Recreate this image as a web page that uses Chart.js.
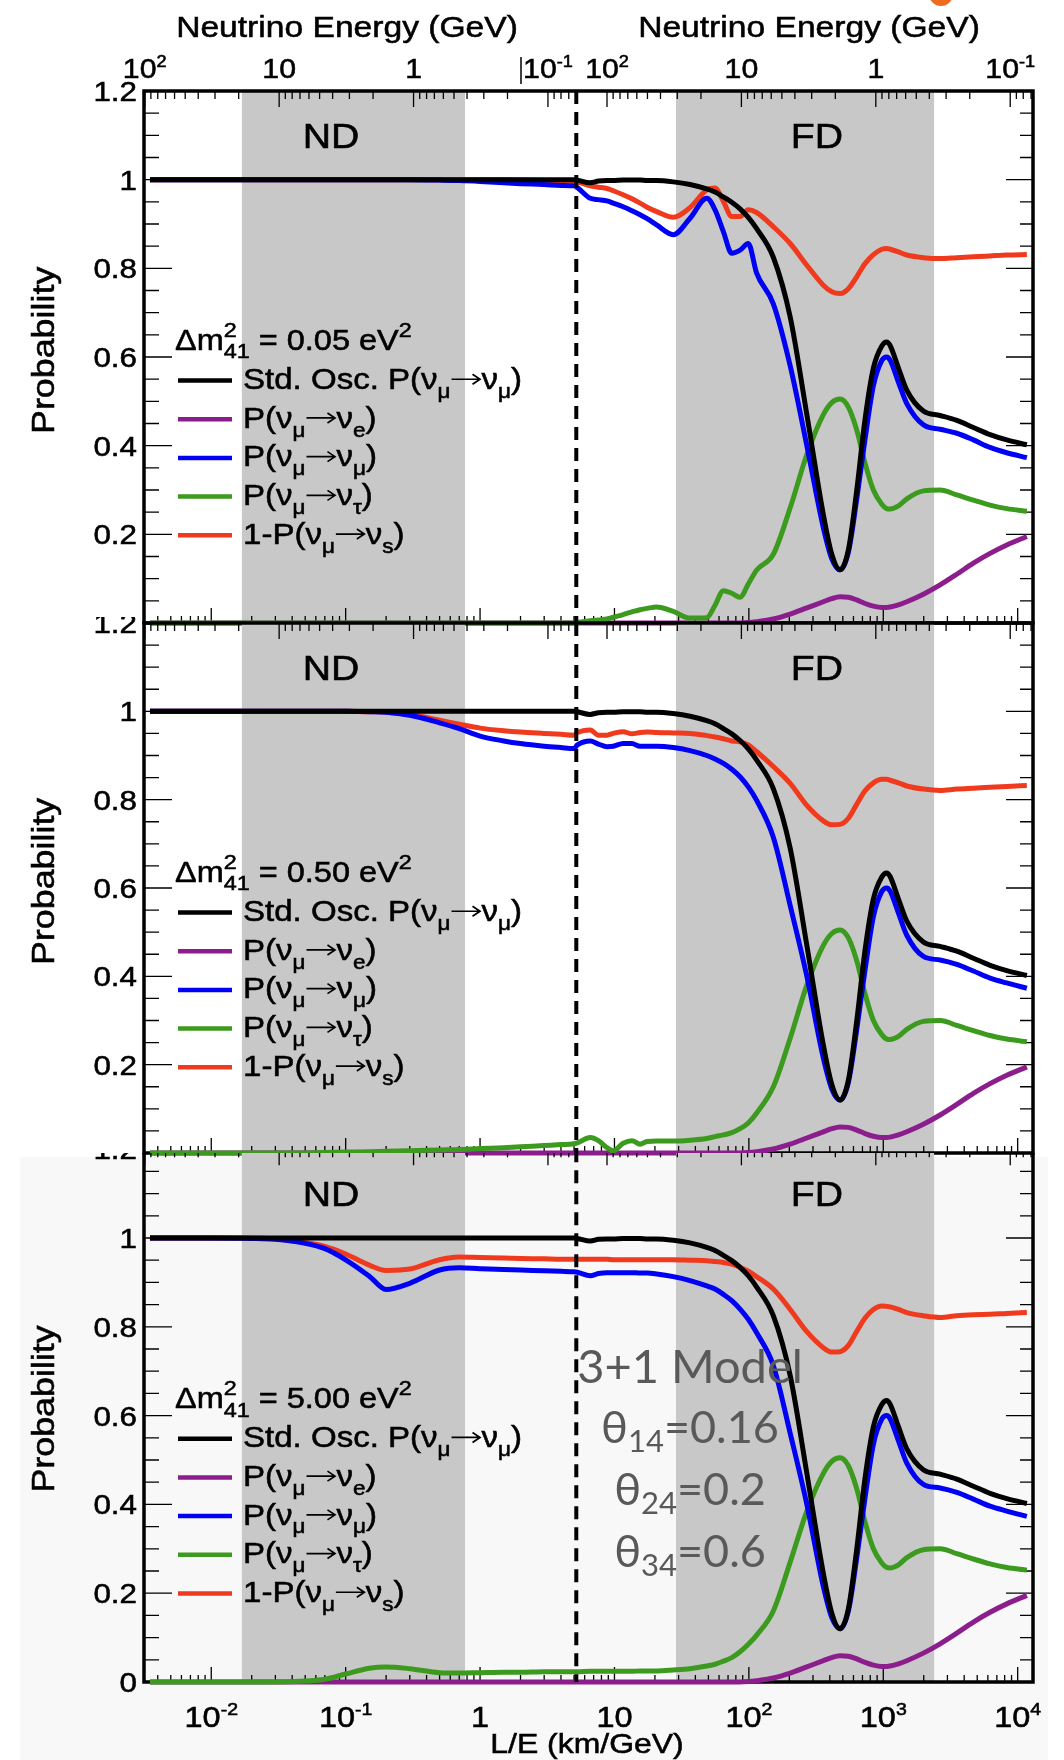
<!DOCTYPE html>
<html>
<head>
<meta charset="utf-8">
<script src="https://cdn.jsdelivr.net/npm/chart.js@4.4.0/dist/chart.umd.min.js"></script>
<style>
  html, body { margin: 0; padding: 0; background: #fff; }
  #page { position: relative; width: 1064px; height: 1760px; overflow: hidden; }
  .wrap { position: absolute; left: 0; width: 1064px; overflow: hidden; }
  .wrap canvas { position: absolute; left: 0; }
  #bg3 { position: absolute; left: 20px; top: 1157px; width: 1028px; height: 603px; background: #f8f8f8; }
  #dot { position: absolute; left: 929px; top: -18px; width: 24px; height: 24px; border-radius: 50%; background: #ee6b1f; }
</style>
</head>
<body>
<div id="page">
  <div id="bg3"></div>
  <div class="wrap" style="top:0;height:640px"><canvas id="c1" width="1064" height="640" style="top:0"></canvas></div>
  <div class="wrap" style="top:617px;height:545px"><canvas id="c2" width="1064" height="545" style="top:0"></canvas></div>
  <div class="wrap" style="top:1153px;height:607px"><canvas id="c3" width="1064" height="617" style="top:-10px"></canvas></div>
  <div id="dot"></div>
</div>
<script>
// L/E sampling points (km/GeV)
const lOverE = [
  0.0035, 0.01, 0.02, 0.03, 0.05, 0.07, 0.1, 0.15, 0.2, 0.3,
  0.5, 0.7, 1, 1.5, 2, 3, 4, 5, 5.3, 6.6,
  7.6, 8.8, 9.8, 11.6, 13.5, 15.5, 17.5, 20.6, 27.4, 36.5,
  48.6, 56, 64.6, 74.6, 86, 99, 114, 152, 203, 270,
  358, 414, 477, 550, 635, 732, 844, 975, 1060, 1124,
  1297, 1496, 1987, 2647, 3524, 4680, 6230, 8300, 11700
];

// standard 3-flavour numu survival, same in every panel
const stdOsc = [
  1, 1, 1, 1, 1, 1, 1, 1, 1, 1,
  1, 1, 1, 1, 1, 1, 1, 1, 0.999, 0.993,
  0.997, 0.998, 0.998, 0.999, 0.999, 0.999, 0.998, 0.998, 0.995, 0.989,
  0.979, 0.972, 0.961, 0.949, 0.934, 0.915, 0.89, 0.825, 0.69, 0.47,
  0.245, 0.155, 0.12, 0.165, 0.3, 0.46, 0.575, 0.625, 0.634, 0.626,
  0.575, 0.525, 0.478, 0.468, 0.457, 0.441, 0.425, 0.413, 0.402
];

// numu -> nue appearance
const nuE = [
  0, 0, 0, 0, 0, 0, 0, 0, 0, 0,
  0, 0, 0, 0, 0, 0, 0, 0, 0, 0,
  0, 0, 0, 0, 0, 0, 0, 0, 0, 0,
  0, 0, 0, 0, 0, 0.001, 0.003, 0.009, 0.02, 0.034,
  0.048, 0.055, 0.059, 0.058, 0.052, 0.044, 0.038, 0.035, 0.035, 0.036,
  0.041, 0.048, 0.065, 0.086, 0.11, 0.135, 0.157, 0.176, 0.195
];

// dm41^2 = 0.05 eV^2
const numu05 = [
  1, 1, 1, 1, 1, 1, 1, 1, 1, 1,
  0.999, 0.998, 0.996, 0.993, 0.991, 0.989, 0.987, 0.986, 0.982, 0.958,
  0.955, 0.952, 0.947, 0.939, 0.93, 0.921, 0.912, 0.898, 0.876, 0.913,
  0.958, 0.932, 0.883, 0.834, 0.841, 0.856, 0.79, 0.72, 0.58, 0.40,
  0.215, 0.145, 0.12, 0.16, 0.28, 0.415, 0.535, 0.592, 0.6, 0.593,
  0.543, 0.495, 0.447, 0.437, 0.428, 0.413, 0.396, 0.384, 0.373
];
const nutau05 = [
  0, 0, 0, 0, 0, 0, 0, 0, 0, 0,
  0, 0, 0, 0, 0, 0, 0, 0, 0.001, 0.005,
  0.007, 0.009, 0.013, 0.019, 0.025, 0.03, 0.033, 0.036, 0.026, 0.011,
  0.012, 0.04, 0.073, 0.067, 0.058, 0.088, 0.119, 0.155, 0.26, 0.38,
  0.47, 0.497, 0.505, 0.487, 0.435, 0.36, 0.30, 0.268, 0.258, 0.257,
  0.264, 0.28, 0.298, 0.3, 0.289, 0.277, 0.266, 0.258, 0.252
];
const notSterile05 = [
  1, 1, 1, 1, 1, 1, 1, 1, 1, 1,
  1, 1, 1, 1, 0.999, 0.998, 0.997, 0.996, 0.995, 0.986,
  0.983, 0.98, 0.975, 0.966, 0.957, 0.947, 0.938, 0.928, 0.915, 0.937,
  0.977, 0.981, 0.951, 0.917, 0.917, 0.932, 0.926, 0.894, 0.856, 0.807,
  0.762, 0.747, 0.743, 0.754, 0.781, 0.811, 0.831, 0.843, 0.845, 0.843,
  0.837, 0.83, 0.824, 0.822, 0.824, 0.826, 0.828, 0.83, 0.831
];

// dm41^2 = 0.50 eV^2
const numu50 = [
  1, 1, 1, 1, 1, 1, 1, 0.999, 0.998, 0.991,
  0.974, 0.961, 0.944, 0.933, 0.927, 0.921, 0.918, 0.916, 0.924, 0.933,
  0.926, 0.92, 0.921, 0.927, 0.927, 0.921, 0.921, 0.921, 0.918, 0.911,
  0.9, 0.892, 0.882, 0.869, 0.852, 0.829, 0.799, 0.715, 0.56, 0.40,
  0.215, 0.145, 0.12, 0.16, 0.28, 0.415, 0.535, 0.592, 0.6, 0.593,
  0.543, 0.493, 0.445, 0.437, 0.427, 0.412, 0.396, 0.385, 0.373
];
const nutau50 = [
  0, 0, 0, 0, 0, 0.001, 0.002, 0.003, 0.004, 0.005,
  0.007, 0.008, 0.01, 0.012, 0.014, 0.017, 0.019, 0.021, 0.023, 0.035,
  0.028, 0.012, 0.005, 0.022, 0.028, 0.02, 0.026, 0.027, 0.027, 0.029,
  0.033, 0.037, 0.041, 0.046, 0.055, 0.068, 0.09, 0.15, 0.26, 0.38,
  0.47, 0.497, 0.505, 0.487, 0.435, 0.36, 0.30, 0.268, 0.258, 0.257,
  0.264, 0.28, 0.298, 0.3, 0.289, 0.277, 0.266, 0.258, 0.252
];
const notSterile50 = [
  1, 1, 1, 1, 1, 1, 1, 0.999, 0.998, 0.993,
  0.98, 0.971, 0.962, 0.956, 0.953, 0.95, 0.948, 0.946, 0.952, 0.958,
  0.946, 0.946, 0.95, 0.954, 0.949, 0.952, 0.953, 0.952, 0.951, 0.95,
  0.945, 0.942, 0.938, 0.933, 0.931, 0.924, 0.909, 0.875, 0.837, 0.787,
  0.752, 0.743, 0.744, 0.758, 0.79, 0.82, 0.838, 0.846, 0.846, 0.844,
  0.838, 0.831, 0.824, 0.821, 0.824, 0.826, 0.828, 0.83, 0.832
];

// dm41^2 = 5.00 eV^2
const numu500 = [
  1, 1, 0.999, 0.997, 0.988, 0.976, 0.951, 0.914, 0.884, 0.898,
  0.928, 0.933, 0.931, 0.929, 0.928, 0.926, 0.925, 0.924, 0.923, 0.915,
  0.92, 0.922, 0.922, 0.922, 0.922, 0.921, 0.921, 0.919, 0.913, 0.904,
  0.892, 0.885, 0.873, 0.859, 0.84, 0.817, 0.787, 0.713, 0.56, 0.40,
  0.215, 0.145, 0.12, 0.16, 0.28, 0.415, 0.535, 0.592, 0.6, 0.593,
  0.543, 0.493, 0.445, 0.437, 0.427, 0.412, 0.396, 0.385, 0.373
];
const nutau500 = [
  0, 0, 0, 0, 0.002, 0.006, 0.018, 0.031, 0.034, 0.03,
  0.021, 0.02, 0.021, 0.022, 0.022, 0.023, 0.023, 0.023, 0.023, 0.024,
  0.024, 0.024, 0.024, 0.024, 0.024, 0.025, 0.025, 0.025, 0.027, 0.03,
  0.036, 0.04, 0.047, 0.055, 0.068, 0.085, 0.105, 0.16, 0.27, 0.385,
  0.47, 0.497, 0.505, 0.487, 0.435, 0.36, 0.30, 0.268, 0.258, 0.257,
  0.264, 0.28, 0.298, 0.3, 0.289, 0.277, 0.266, 0.258, 0.252
];
const notSterile500 = [
  1, 1, 1, 0.998, 0.99, 0.981, 0.964, 0.939, 0.927, 0.93,
  0.951, 0.957, 0.956, 0.955, 0.954, 0.953, 0.952, 0.952, 0.952, 0.952,
  0.952, 0.952, 0.951, 0.951, 0.951, 0.951, 0.951, 0.951, 0.951, 0.95,
  0.949, 0.947, 0.945, 0.941, 0.934, 0.925, 0.913, 0.885, 0.839, 0.789,
  0.753, 0.743, 0.744, 0.758, 0.79, 0.82, 0.839, 0.847, 0.846, 0.845,
  0.839, 0.832, 0.825, 0.821, 0.825, 0.827, 0.828, 0.83, 0.832
];

const dm41 = ['0.05', '0.50', '5.00'];
const yLabels = [[0.2, 0.4, 0.6, 0.8, 1, 1.2], [0.2, 0.4, 0.6, 0.8, 1, 1.2], [0, 0.2, 0.4, 0.6, 0.8, 1, 1.2]];
const leLabels = [0.01, 0.1, 1, 10, 100, 1000, 10000];
const energyLabels = [100, 10, 1, 0.1];
const ndBand = [0.0169, 0.773];
const fdBand = [28.7, 2388];
const boundaryLE = 5.2;
const baselineND = 0.32;  // km
const baselineFD = 880;   // km
const mixing = [['14', '0.16'], ['24', '0.2'], ['34', '0.6']];

const LE_MIN = 0.00316, LE_MAX = 13000;
const SX = 1.12;
const HELV = '"Liberation Sans", Arial, sans-serif';
const CALI = 'Lato, "Open Sans", sans-serif';

const legendParts = [
  [{ t: 'Std. Osc. P(ν' }, { t: 'μ', sub: 1 }, { arrow: 1 }, { t: 'ν' }, { t: 'μ', sub: 1 }, { t: ')' }],
  [{ t: 'P(ν' }, { t: 'μ', sub: 1 }, { arrow: 1 }, { t: 'ν' }, { t: 'e', sub: 1 }, { t: ')' }],
  [{ t: 'P(ν' }, { t: 'μ', sub: 1 }, { arrow: 1 }, { t: 'ν' }, { t: 'μ', sub: 1 }, { t: ')' }],
  [{ t: 'P(ν' }, { t: 'μ', sub: 1 }, { arrow: 1 }, { t: 'ν' }, { t: 'τ', sub: 1 }, { t: ')' }],
  [{ t: '1-P(ν' }, { t: 'μ', sub: 1 }, { arrow: 1 }, { t: 'ν' }, { t: 's', sub: 1 }, { t: ')' }]
];

// text helpers: widened Helvetica-like glyphs with sub/superscripts
function put(ctx, t, x, y, px) {
  ctx.font = px + 'px ' + HELV;
  ctx.save();
  ctx.translate(x, y);
  ctx.scale(SX, 1);
  ctx.fillText(t, 0, 0);
  ctx.strokeStyle = ctx.fillStyle;
  ctx.lineWidth = 0.55;
  ctx.strokeText(t, 0, 0);
  ctx.restore();
  return ctx.measureText(t).width * SX;
}

function arrow(ctx, x, y, size) {
  const w = size * 1.05, ay = y - size * 0.33;
  ctx.save();
  ctx.strokeStyle = ctx.fillStyle;
  ctx.lineWidth = 1.7;
  ctx.beginPath();
  ctx.moveTo(x + 1, ay); ctx.lineTo(x + w - 2, ay);
  ctx.moveTo(x + w - 9, ay - 5); ctx.lineTo(x + w - 1.5, ay); ctx.lineTo(x + w - 9, ay + 5);
  ctx.stroke();
  ctx.restore();
  return w;
}

function richWidth(ctx, parts, size, s) {
  let w = 0;
  for (const p of parts) {
    if (p.arrow) {
      w += size * 1.05;
    } else if (p.stack) {
      ctx.font = (size * s.k) + 'px ' + HELV;
      w += Math.max(ctx.measureText(p.stack[0]).width, ctx.measureText(p.stack[1]).width) * SX;
    } else {
      ctx.font = ((p.sub || p.sup) ? size * s.k : size) + 'px ' + HELV;
      w += ctx.measureText(p.t).width * SX;
    }
  }
  return w;
}

function drawRich(ctx, parts, x, y, size, align, s) {
  s = s || { k: 0.7, up: 0.45, down: 0.29 };
  const w = richWidth(ctx, parts, size, s);
  let cx = align === 'center' ? x - w / 2 : align === 'right' ? x - w : x;
  ctx.textAlign = 'left';
  ctx.textBaseline = 'alphabetic';
  const ps = size * s.k;
  for (const p of parts) {
    if (p.arrow) cx += arrow(ctx, cx, y, size);
    else if (p.stack) {
      const a = put(ctx, p.stack[0], cx, y - size * s.up, ps);
      const b = put(ctx, p.stack[1], cx, y + size * s.down, ps);
      cx += Math.max(a, b);
    } else if (p.sup) cx += put(ctx, p.t, cx, y - size * s.up, ps);
    else if (p.sub) cx += put(ctx, p.t, cx, y + size * s.down, ps);
    else cx += put(ctx, p.t, cx, y, size);
  }
}

function powerParts(v) {
  const n = Math.round(Math.log10(v));
  if (n === 0) return [{ t: '1' }];
  if (n === 1) return [{ t: '10' }];
  return [{ t: '10' }, { t: n < 0 ? '-' + (-n) : String(n), sup: 1 }];
}
const axisSup = { k: 0.6, up: 0.42, down: 0 };

function yText(v) {
  return v === 0 || v === 1 ? String(v) : v.toFixed(1);
}

const frame = {
  id: 'frame',
  beforeDatasetsDraw(chart, args, opts) {
    const p = opts.panel;
    const { ctx, chartArea: a, scales: { x, y } } = chart;
    const X = v => x.getPixelForValue(v), Y = v => y.getPixelForValue(v);
    ctx.save();

    // ND and FD energy windows
    ctx.fillStyle = '#c8c8c8';
    [ndBand, fdBand].forEach(([lo, hi]) => ctx.fillRect(X(lo), a.top, X(hi) - X(lo), a.bottom - a.top));

    ctx.strokeStyle = '#000';
    ctx.lineWidth = 1.3;
    ctx.beginPath();
    for (let i = 1; i < 24; i++) {
      const py = Y(i * 0.05), major = i % 4 === 0;
      ctx.moveTo(a.left, py); ctx.lineTo(a.left + (major ? 28 : 15), py);
      ctx.moveTo(a.right, py); ctx.lineTo(a.right - (major ? 27 : 13), py);
    }
    for (let d = -3; d <= 4; d++) {
      for (let k = 1; k <= 9; k++) {
        const v = k * Math.pow(10, d);
        if (v <= LE_MIN || v >= LE_MAX) continue;
        ctx.moveTo(X(v), a.bottom); ctx.lineTo(X(v), a.bottom - (k === 1 ? 15 : 7));
      }
    }
    // energy ticks: near detector left of the boundary, far detector right of it
    const segs = [[baselineND, LE_MIN, boundaryLE], [baselineFD, boundaryLE, LE_MAX]];
    for (let d = -2; d <= 2; d++) {
      for (let k = 1; k <= 9; k++) {
        const e = k * Math.pow(10, d);
        segs.forEach(([L, lo, hi]) => {
          const le = L / e;
          if (le <= lo || le >= hi) return;
          ctx.moveTo(X(le), a.top); ctx.lineTo(X(le), a.top + (k === 1 ? 16 : 8));
        });
      }
    }
    ctx.stroke();
    ctx.lineWidth = 3.5;
    ctx.strokeRect(a.left, a.top, a.right - a.left, a.bottom - a.top);

    ctx.fillStyle = '#000';
    drawRich(ctx, [{ t: 'ND' }], 331, a.top + 56.5, 35, 'center');
    drawRich(ctx, [{ t: 'FD' }], 817, a.top + 56.5, 35, 'center');

    yLabels[p].forEach(v => drawRich(ctx, [{ t: yText(v) }], 137, Y(v) + 10, 28, 'right'));

    ctx.save();
    ctx.translate(54, Y(0.615));
    ctx.rotate(-Math.PI / 2);
    drawRich(ctx, [{ t: 'Probability' }], 0, 0, 32, 'center');
    ctx.restore();

    // legend
    const ds = chart.data.datasets;
    drawRich(ctx, [{ t: 'Δm' }, { stack: ['2', '41'] }, { t: ' = ' + dm41[p] + ' eV' }, { t: '2', sup: 1 }],
      175, a.top + 259, 29, 'left', { k: 0.72, up: 0.45, down: 0.29 });
    legendParts.forEach((parts, i) => {
      const base = a.top + 298 + i * 38.7;
      ctx.strokeStyle = ds[i].borderColor;
      ctx.lineWidth = 4.5;
      ctx.beginPath();
      ctx.moveTo(178, base - 8.5); ctx.lineTo(232, base - 8.5);
      ctx.stroke();
      ctx.fillStyle = '#000';
      drawRich(ctx, parts, 243, base, 29.5, 'left', { k: 0.68, up: 0.45, down: 0.3 });
    });

    if (p === 0) {
      segs.forEach(([L]) => energyLabels.forEach(e => drawRich(ctx, powerParts(e), X(L / e), a.top - 13, 27, 'center', axisSup)));
      drawRich(ctx, [{ t: 'Neutrino Energy (GeV)' }], 347, a.top - 53.6, 30, 'center');
      drawRich(ctx, [{ t: 'Neutrino Energy (GeV)' }], 809, a.top - 53.6, 30, 'center');
      ctx.strokeStyle = '#000';
      ctx.lineWidth = 1.5;
      ctx.beginPath();
      ctx.moveTo(521, a.top - 34); ctx.lineTo(521, a.top - 7);
      ctx.stroke();
    }
    if (p === 2) {
      leLabels.forEach(v => drawRich(ctx, powerParts(v), X(v), a.bottom + 45, 29, 'center', axisSup));
      drawRich(ctx, [{ t: 'L/E (km/GeV)' }], 587, a.bottom + 71, 28.5, 'center');
    }
    ctx.restore();
  },
  afterDatasetsDraw(chart, args, opts) {
    const { ctx, chartArea: a, scales: { x } } = chart;
    const bx = x.getPixelForValue(boundaryLE);
    ctx.save();
    ctx.strokeStyle = '#000';
    ctx.lineWidth = 4;
    ctx.setLineDash([13, 8]);
    ctx.beginPath();
    ctx.moveTo(bx, a.top); ctx.lineTo(bx, a.bottom);
    ctx.stroke();

    if (opts.panel === 2) {
      ctx.fillStyle = '#595959';
      ctx.textBaseline = 'alphabetic';
      ctx.textAlign = 'center';
      ctx.font = '47px ' + CALI;
      ctx.fillText('3+1 Model', 690, a.top + 234);
      ctx.textAlign = 'left';
      mixing.forEach(([ij, val], i) => {
        const base = a.top + 294 + i * 62;
        ctx.font = '45px ' + CALI;
        const w1 = ctx.measureText('θ').width, w3 = ctx.measureText('=' + val).width;
        ctx.font = '31px ' + CALI;
        const w2 = ctx.measureText(ij).width;
        const cx = 690 - (w1 + w2 + w3) / 2;
        ctx.font = '45px ' + CALI;
        ctx.fillText('θ', cx, base);
        ctx.font = '31px ' + CALI;
        ctx.fillText(ij, cx + w1, base + 9);
        ctx.font = '45px ' + CALI;
        ctx.fillText('=' + val, cx + w1 + w2, base);
      });
    }
    ctx.restore();
  }
};

const colors = { std: '#000000', e: '#8c1d8c', mu: '#0000f5', tau: '#3c9a1e', s: '#f03a1e' };

function makePanel(id, p, numu, nutau, notSterile, pad) {
  // legend order; 'order' keeps the standard curve on top and nue at the bottom
  const series = [
    { values: stdOsc, color: colors.std, order: 0 },
    { values: nuE, color: colors.e, order: 4 },
    { values: numu, color: colors.mu, order: 1 },
    { values: nutau, color: colors.tau, order: 3 },
    { values: notSterile, color: colors.s, order: 2 }
  ];
  return new Chart(document.getElementById(id), {
    type: 'line',
    data: {
      datasets: series.map(s => ({
        data: lOverE.map((le, k) => ({ x: le, y: s.values[k] })),
        borderColor: s.color,
        borderWidth: 5,
        pointRadius: 0,
        fill: false,
        cubicInterpolationMode: 'monotone',
        order: s.order,
        clip: false
      }))
    },
    options: {
      responsive: false,
      animation: false,
      devicePixelRatio: 1,
      events: [],
      layout: { padding: pad },
      scales: {
        x: { type: 'logarithmic', min: LE_MIN, max: LE_MAX, display: false },
        y: { type: 'linear', min: 0, max: 1.2, display: false }
      },
      plugins: { legend: { display: false }, tooltip: { enabled: false }, frame: { panel: p } }
    },
    plugins: [frame]
  });
}

makePanel('c1', 0, numu05, nutau05, notSterile05, { left: 144, right: 31, top: 91, bottom: 17 });
makePanel('c2', 1, numu50, nutau50, notSterile50, { left: 144, right: 31, top: 6, bottom: 9 });
makePanel('c3', 2, numu500, nutau500, notSterile500, { left: 144, right: 31, top: 6.2, bottom: 78 });
</script>
</body>
</html>
